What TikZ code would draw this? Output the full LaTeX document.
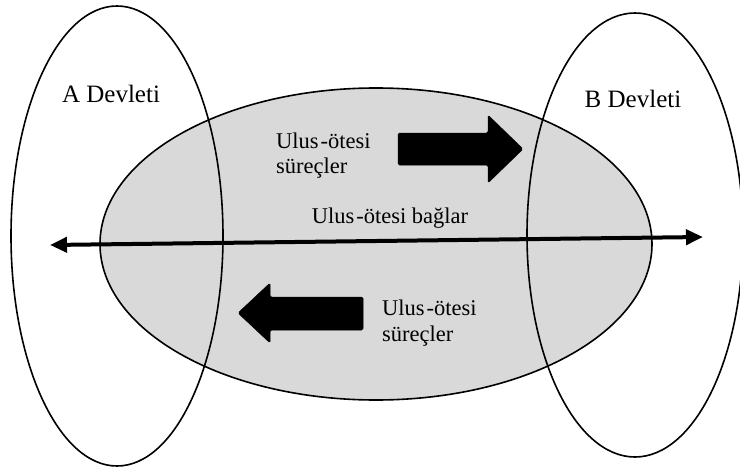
\documentclass[tikz,border=0pt]{standalone}
\usepackage{fontspec}
\setmainfont{Liberation Serif}
\usetikzlibrary{arrows.meta}
\definecolor{bubble}{HTML}{D9D9D9}
\begin{document}
\begin{tikzpicture}[x=1pt,y=-1pt,
  outline/.style={draw=black,line width=1.6pt},
  fatarrow/.style={fill=black,draw=black,line width=0.5pt,rounded corners=1.5pt},
  lbl/.style={inner sep=0pt,anchor=base west,font=\fontsize{22.5}{26}\selectfont},
  title/.style={inner sep=0pt,anchor=base,font=\fontsize{25}{30}\selectfont}]
\useasboundingbox (0,0) rectangle (740,471);
% transnational sphere
\fill[bubble] (376,244) ellipse [x radius=276pt, y radius=156pt];
\draw[outline] (376,244) ellipse [x radius=276pt, y radius=156pt];
% states
\draw[outline] (117,236) ellipse [x radius=106pt, y radius=230pt];
\draw[outline] (635,235) ellipse [x radius=108pt, y radius=222pt];
% transnational ties arrow
\coordinate (tl) at (50,245);
\coordinate (tr) at (703,237);
\draw[line width=4pt,{Triangle[length=17pt,width=15pt]}-{Triangle[length=17pt,width=15pt]}] (tl) -- (tr);
% fat arrows
\fill[fatarrow] (398,133) -- (488,133) -- (488,115) -- (523,149) -- (488,183) -- (488,165) -- (398,165) -- cycle;
\fill[fatarrow] (363,297) -- (270,297) -- (270,283) -- (238,313) -- (270,343) -- (270,330) -- (363,330) -- cycle;
% labels
\node[title] (a) at (111,102) {A Devleti};
\node[title] (b) at (633,107) {B Devleti};
\node[lbl] (u1) at (276,148) {Ulus\kern2pt-ötesi};
\node[lbl] (s1) at (276,173) {süreçler};
\node[lbl,anchor=base] (bag) at (390,223) {Ulus\kern2pt-ötesi bağlar};
\node[lbl] (u2) at (382,315) {Ulus\kern2pt-ötesi};
\node[lbl] (s2) at (382,341) {süreçler};
\end{tikzpicture}
\end{document}
